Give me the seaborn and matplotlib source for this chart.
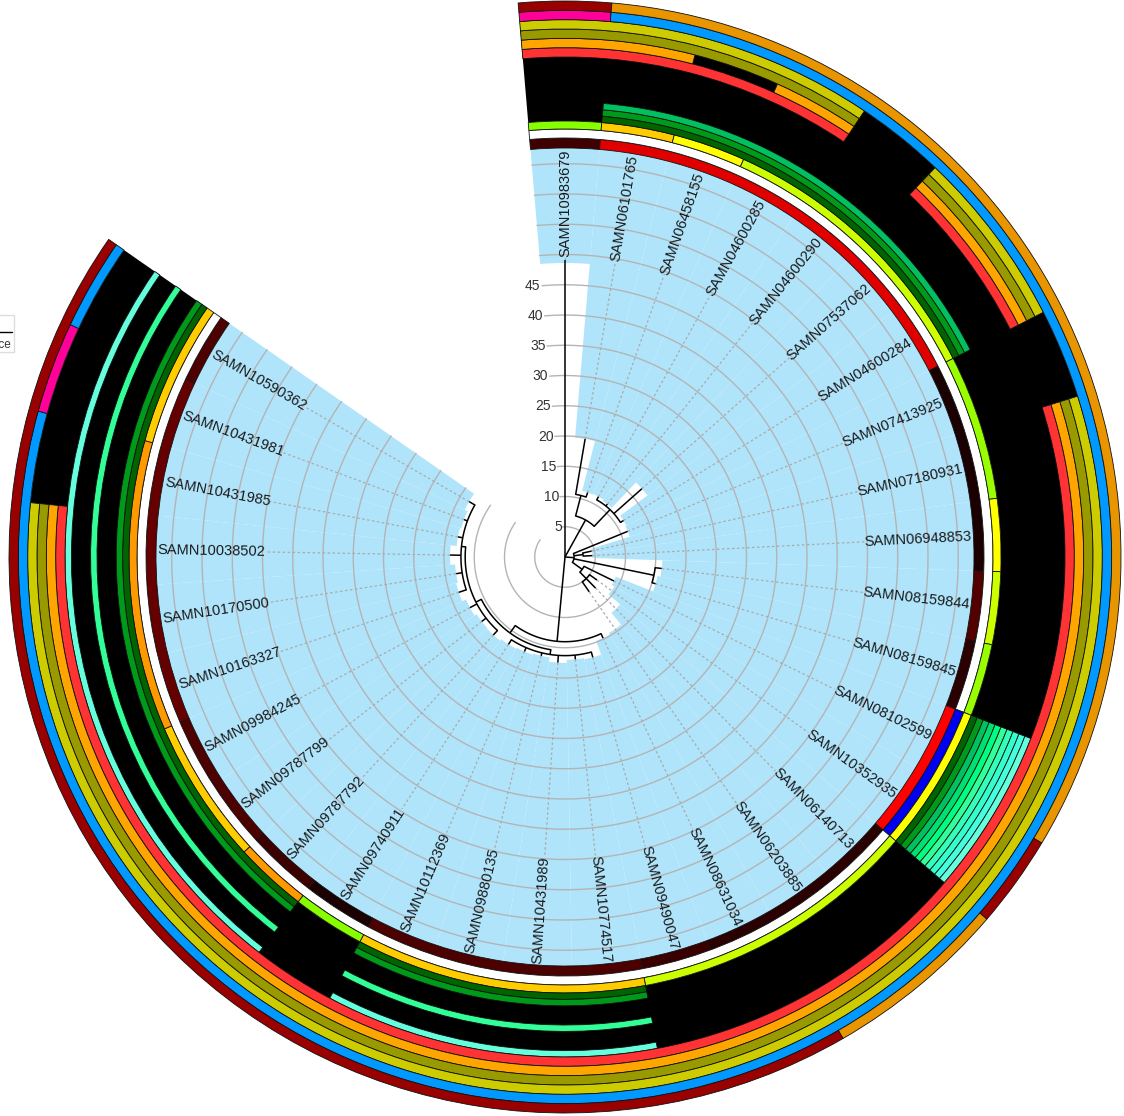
import numpy as np
import matplotlib
matplotlib.use("Agg")
import matplotlib.pyplot as plt
from matplotlib.patches import Rectangle
from matplotlib.lines import Line2D
import seaborn as sns

sns.set_theme(style="white")
plt.rcParams["font.family"] = ["Liberation Sans", "DejaVu Sans"]

# ---- data ----
leaves = ["SAMN10983679", "SAMN06101765", "SAMN06458155", "SAMN04600285",
          "SAMN04600290", "SAMN07537062", "SAMN04600284", "SAMN07413925",
          "SAMN07180931", "SAMN06948853", "SAMN08159844", "SAMN08159845",
          "SAMN08102599", "SAMN10352935", "SAMN06140713", "SAMN06203885",
          "SAMN08631034", "SAMN09490047", "SAMN10774517", "SAMN10431989",
          "SAMN09880135", "SAMN10112369", "SAMN09740911", "SAMN09787792",
          "SAMN09787799", "SAMN09984245", "SAMN10163327", "SAMN10170500",
          "SAMN10038502", "SAMN10431985", "SAMN10431981", "SAMN10590362"]

# distance from root to each tip
tip_depth = [49.1, 19.8, 11.3, 11.4, 11.2, 17.0, 11.4, 11.2,
             4.5, 4.5, 16.1, 15.6, 9.0, 6.5, 7.2, 7.0,
             14.8, 17.2, 17.0, 17.5, 16.8, 17.0, 17.2, 17.5,
             17.4, 17.8, 18.5, 18.2, 19.0, 18.0, 17.8, 18.3]

# internal nodes: clade = contiguous run of tips (first, last) and node depth
clade_first = [0, 1, 1, 3, 7, 8, 10, 12, 13, 16, 17, 17, 23, 26]
clade_last = [31, 6, 2, 6, 15, 9, 11, 15, 15, 31, 31, 22, 31, 31]
clade_depth = [0.0, 7.0, 10.5, 10.8, 1.5, 3.0, 15.0, 3.5, 5.0, 14.0, 15.5, 16.3, 16.5, 17.2]

# where the light blue highlight starts for each tip
highlight_from = [48.6, 19.8, 11.3, 11.4, 11.2, 17.0, 11.4, 11.2,
                  4.5, 4.5, 16.1, 15.6, 9.0, 9.5, 12.0, 14.5,
                  14.8, 17.2, 17.0, 17.5, 16.8, 17.0, 17.2, 17.5,
                  17.4, 17.8, 18.5, 18.2, 19.0, 18.0, 17.8, 18.3]

# annotation rings, inner to outer, as (colour, number of tips) runs
ring_source = [("#400000", 1), ("#e00000", 6), ("#1a0000", 3), ("#520000", 1),
               ("#2a0000", 1), ("#ff0000", 2), ("#2a0000", 3), ("#3a0000", 1),
               ("#4d0000", 4), ("#1a0000", 1), ("#3d0000", 1), ("#4d0000", 2),
               ("#660000", 5), ("#4d0000", 1)]
ring_host = [("white", 12), ("#0000ee", 2), ("white", 18)]
ring_region = [("#88ff00", 1), ("#ffcc00", 1), ("#ffff00", 1), ("#ccff00", 4),
               ("#99ff00", 2), ("#ffff00", 1), ("#ccff00", 1), ("#99ff00", 1),
               ("#ffff00", 2), ("#ccff00", 4), ("#ffcc00", 4), ("#88ff00", 1),
               ("#ff9900", 1), ("#ffcc00", 2), ("#ff9900", 4), ("#ffcc00", 2)]
gene_colors = ["#006400", "#009a1a", "#00c060", "#00e070", "#00ff80",
               "#33ff99", "#33ffbb", "#33ffcc", "#44ffdd", "#66ffdd"]
gene_present = [
    [(0, 1), (1, 6), (0, 5), (1, 2), (0, 4), (1, 4), (0, 1), (1, 9)],
    [(0, 1), (1, 6), (0, 5), (1, 2), (0, 4), (1, 4), (0, 1), (1, 9)],
    [(0, 1), (1, 6), (0, 5), (1, 2), (0, 18)],
    [(0, 12), (1, 2), (0, 18)],
    [(0, 12), (1, 2), (0, 18)],
    [(0, 12), (1, 2), (0, 4), (1, 4), (0, 1), (1, 9)],
    [(0, 12), (1, 2), (0, 18)],
    [(0, 12), (1, 2), (0, 18)],
    [(0, 12), (1, 2), (0, 18)],
    [(0, 12), (1, 2), (0, 4), (1, 4), (0, 1), (1, 9)],
]
ring_red = [("#ff3333", 4), ("black", 1), ("#ff3333", 2), ("black", 1), ("#ff3333", 21), ("black", 3)]
ring_orange = [("#ffa500", 2), ("black", 1), ("#ffa500", 1), ("black", 1), ("#ffa500", 2),
               ("black", 1), ("#ffa500", 21), ("black", 3)]
ring_olive = [("#999900", 4), ("black", 1), ("#999900", 2), ("black", 1), ("#999900", 21), ("black", 3)]
ring_yellow = [("#cccc00", 4), ("black", 1), ("#cccc00", 2), ("black", 1), ("#cccc00", 21), ("black", 3)]
ring_blue = [("#ff0099", 1), ("#0099ff", 29), ("#ff0099", 1), ("#0099ff", 1)]
ring_outer = [("#990000", 1), ("#e89500", 12), ("#990000", 1), ("#e89500", 2), ("#990000", 16)]

scale_ticks = [5, 10, 15, 20, 25, 30, 35, 40, 45]


def expand(runs):
    out = []
    for c, k in runs:
        out += [c] * k
    return out


rings = [expand(ring_source), expand(ring_host), expand(ring_region)]
for col, pres in zip(gene_colors, gene_present):
    rings.append([col if p else "black" for p in expand(pres)])
rings += [expand(r) for r in (ring_red, ring_orange, ring_olive, ring_yellow, ring_blue, ring_outer)]

# ring edges in pixels from the centre
px = 6.05
ring_edges = [409, 419, 428, 436] + list(np.linspace(436, 500, 11)[1:]) + list(np.linspace(500, 556, 7)[1:])
ring_edges = np.array(ring_edges) / px

n = len(leaves)
step = 300.0 / (n - 1)
theta = np.deg2rad(np.arange(n) * step)
w = np.deg2rad(step)

# ---- figure ----
W, H = 1124, 1116
cx, cy = 565, 557
rmax = 93.0
R = rmax * px
fig = plt.figure(figsize=(W / 100, H / 100), dpi=100)
ax = fig.add_axes([(cx - R) / W, (H - cy - R) / H, 2 * R / W, 2 * R / H], projection="polar")
ax.set_theta_zero_location("N")
ax.set_theta_direction(-1)
ax.set_ylim(0, rmax)
ax.axis("off")

# light blue highlight behind the labels
label_in = 49.6
label_out = 409 / px
ax.bar(theta, label_out - np.array(highlight_from), width=w, bottom=highlight_from,
       color="#b0e4fb", linewidth=0, zorder=1)

# grid circles
arc = np.linspace(-w / 2, theta[-1] + w / 2, 300)
for v in range(5, 70, 5):
    ax.plot(arc, np.full_like(arc, v), color="#b4b4b4", lw=1.0, zorder=2)
for v in scale_ticks:
    ax.text(np.deg2rad(-5.3), v, str(v), ha="right", va="center", fontsize=10,
            color="#333333", zorder=5)

# dotted leaders
for t, d in zip(theta, tip_depth):
    if d < label_in:
        ax.plot([t, t], [d, label_in], color="#aaaaaa", lw=0.9, ls=(0, (2, 2)), zorder=2)

# ---- tree ----
clades = list(zip(clade_first, clade_last, clade_depth))


def kids(ci):
    lo, hi, _ = clades[ci]
    inner = [j for j, (a, b, _) in enumerate(clades)
             if j != ci and lo <= a and b <= hi and (a, b) != (lo, hi)]
    top = [j for j in inner
           if not any(k != j and clades[k][0] <= clades[j][0] and clades[j][1] <= clades[k][1]
                      for k in inner)]
    covered = set()
    for j in top:
        covered |= set(range(clades[j][0], clades[j][1] + 1))
    return [("c", j) for j in top] + [("l", i) for i in range(lo, hi + 1) if i not in covered]


def node_angle(node):
    kind, i = node
    if kind == "l":
        return theta[i]
    return np.mean([node_angle(k) for k in kids(i)])


def node_depth(node):
    kind, i = node
    return tip_depth[i] if kind == "l" else clades[i][2]


for ci, (lo, hi, d) in enumerate(clades):
    ks = kids(ci)
    angs = [node_angle(k) for k in ks]
    for k, a in zip(ks, angs):
        ax.plot([a, a], [d, node_depth(k)], color="black", lw=1.1, zorder=4,
                solid_capstyle="butt")
    if d > 0:
        t = np.linspace(min(angs), max(angs), 60)
        ax.plot(t, np.full_like(t, d), color="black", lw=1.1, zorder=4)

# tip labels
for t, name in zip(np.arange(n) * step, leaves):
    if t < 180:
        rot, ha = 90 - t, "right"
    else:
        rot, ha = 270 - t, "left"
    ax.text(np.deg2rad(t), label_out - 0.3, name, rotation=rot, rotation_mode="anchor",
            ha=ha, va="center", fontsize=10.5, color="#1a1a1a", zorder=5)

# ---- rings ----
span = theta[-1] + w
ax.bar(theta[-1] / 2, ring_edges[17] - ring_edges[3], width=span, bottom=ring_edges[3],
       color="black", linewidth=0, zorder=3)
for ri, cols in enumerate(rings):
    r0, r1 = ring_edges[ri], ring_edges[ri + 1]
    i = 0
    while i < n:
        j = i
        while j + 1 < n and cols[j + 1] == cols[i]:
            j += 1
        if cols[i] != "black":
            a0 = theta[i] - w / 2
            a1 = theta[j] + w / 2
            ax.bar((a0 + a1) / 2, r1 - r0, width=a1 - a0, bottom=r0, color=cols[i],
                   edgecolor="#111111", linewidth=0.6, zorder=3)
        i = j + 1

# partial legend at the left edge
fig.patches.append(Rectangle((-60 / W, 1 - 352 / H), 74 / W, 37 / H, transform=fig.transFigure,
                             facecolor="white", edgecolor="#dddddd", lw=1))
fig.lines.append(Line2D([-40 / W, 12 / W], [1 - 332 / H] * 2, transform=fig.transFigure,
                        color="black", lw=1))
fig.text(11 / W, 1 - 345 / H, "Distance", ha="right", va="center", fontsize=8.5, color="#333333")

fig.savefig("out.png", dpi=100)
